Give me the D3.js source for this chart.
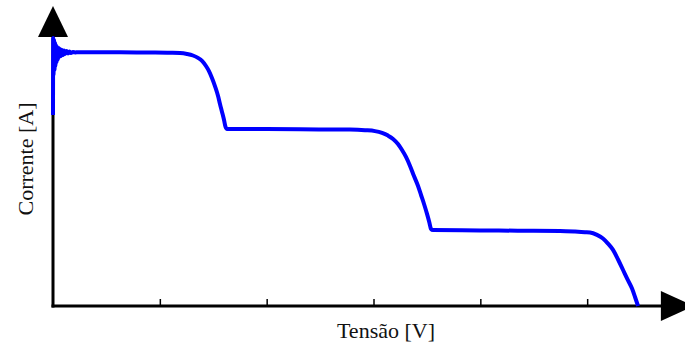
<!DOCTYPE html>
<html>
<head>
<meta charset="utf-8">
<script src="https://cdn.jsdelivr.net/npm/d3@7"></script>
<style>
  html, body { margin: 0; padding: 0; background: #fff; }
  svg { display: block; }
</style>
</head>
<body>
<svg id="chart" width="685" height="347"></svg>
<script>
// Data (Tensão [V] vs Corrente [A])
const tensao = [0, 0.019, 0.047, 0.094, 0.14, 0.19, 0.23, 0.28, 0.34, 0.39, 0.46, 0.52, 0.60, 0.67, 0.75,
  0.84, 0.94, 1.03, 1.14, 1.26, 1.40, 1.54, 1.68, 1.87, 2.06, 2.34,
  6.27, 9.08, 10.95, 11.89, 12.54, 13.10, 13.57, 13.95, 14.32, 14.60, 14.88, 15.16, 15.45, 15.63, 15.82, 16.01, 16.15, 16.29,
  19.38, 23.12, 27.80, 29.21, 30.14, 30.80, 31.36, 31.83, 32.29, 32.67, 33.04, 33.42, 33.79, 34.17, 34.45, 34.73, 35.01, 35.24, 35.38, 35.57,
  39.97, 43.50, 47.46, 48.86, 49.80, 50.27, 50.92, 51.48, 51.95, 52.42, 52.89, 53.36, 53.73, 54.20, 54.48, 54.76];
const corrente = [6.37, 8.93, 7.70, 8.87, 7.87, 8.77, 8.00, 8.70, 8.13, 8.63, 8.23, 8.60, 8.30, 8.57, 8.33,
  8.53, 8.37, 8.52, 8.40, 8.50, 8.42, 8.48, 8.43, 8.47, 8.45, 8.46,
  8.46, 8.45, 8.44, 8.43, 8.40, 8.35, 8.27, 8.17, 8.00, 7.83, 7.60, 7.33, 7.00, 6.73, 6.47, 6.20, 5.97, 5.90,
  5.90, 5.89, 5.88, 5.86, 5.83, 5.77, 5.68, 5.57, 5.40, 5.20, 4.97, 4.67, 4.33, 4.00, 3.70, 3.40, 3.07, 2.77, 2.57, 2.53,
  2.52, 2.51, 2.50, 2.48, 2.46, 2.45, 2.37, 2.25, 2.08, 1.87, 1.55, 1.20, 0.92, 0.58, 0.30, 0.00];
const xTicks = [10, 20, 30, 40, 50];
const xLabel = "Tensão [V]";
const yLabel = "Corrente [A]";

const svg = d3.select("#chart");
const x = d3.scaleLinear().domain([0, 60]).range([53, 694]);
const y = d3.scaleLinear().domain([0, 10]).range([306, 6]);

const x0 = x(0), y0 = y(0);

// Axis lines
svg.append("line").attr("x1", x0).attr("y1", y0 + 1.5).attr("x2", x0).attr("y2", y(9.6))
  .attr("stroke", "#000").attr("stroke-width", 3);
svg.append("line").attr("x1", x0 - 1.5).attr("y1", y0).attr("x2", x(57.5)).attr("y2", y0)
  .attr("stroke", "#000").attr("stroke-width", 3);

// Arrowheads
svg.append("path")
  .attr("d", `M${x0},${y(10)} L${x0 - 15},${y(8.97)} L${x0 + 15},${y(8.97)} Z`)
  .attr("fill", "#000");
svg.append("path")
  .attr("d", `M${x(60)},${y0} L${x(56.9)},${y0 - 15} L${x(56.9)},${y0 + 15} Z`)
  .attr("fill", "#000");

// Ticks
const gx = svg.append("g").attr("transform", `translate(0,${y0})`)
  .call(d3.axisBottom(x).tickValues(xTicks).tickSize(-7).tickFormat(""));
gx.select(".domain").remove();
gx.selectAll(".tick line").attr("stroke", "#000").attr("stroke-width", 1.5);

// Curve
const pts = tensao.map((v, i) => [v, corrente[i]]);
const line = d3.line().x(d => x(d[0])).y(d => y(d[1])).curve(d3.curveMonotoneX);
svg.append("path").datum(pts)
  .attr("d", line)
  .attr("fill", "none")
  .attr("stroke", "#0000ff")
  .attr("stroke-width", 4)
  .attr("stroke-linejoin", "round");

// Labels
svg.append("text").attr("x", 386).attr("y", 338)
  .attr("text-anchor", "middle")
  .attr("font-family", "'Liberation Serif', 'Times New Roman', serif")
  .attr("font-size", 22).attr("fill", "#111")
  .text(xLabel);
svg.append("text")
  .attr("transform", "translate(33,159) rotate(-90)")
  .attr("text-anchor", "middle")
  .attr("font-family", "'Liberation Serif', 'Times New Roman', serif")
  .attr("font-size", 22).attr("fill", "#111")
  .text(yLabel);
</script>
</body>
</html>
